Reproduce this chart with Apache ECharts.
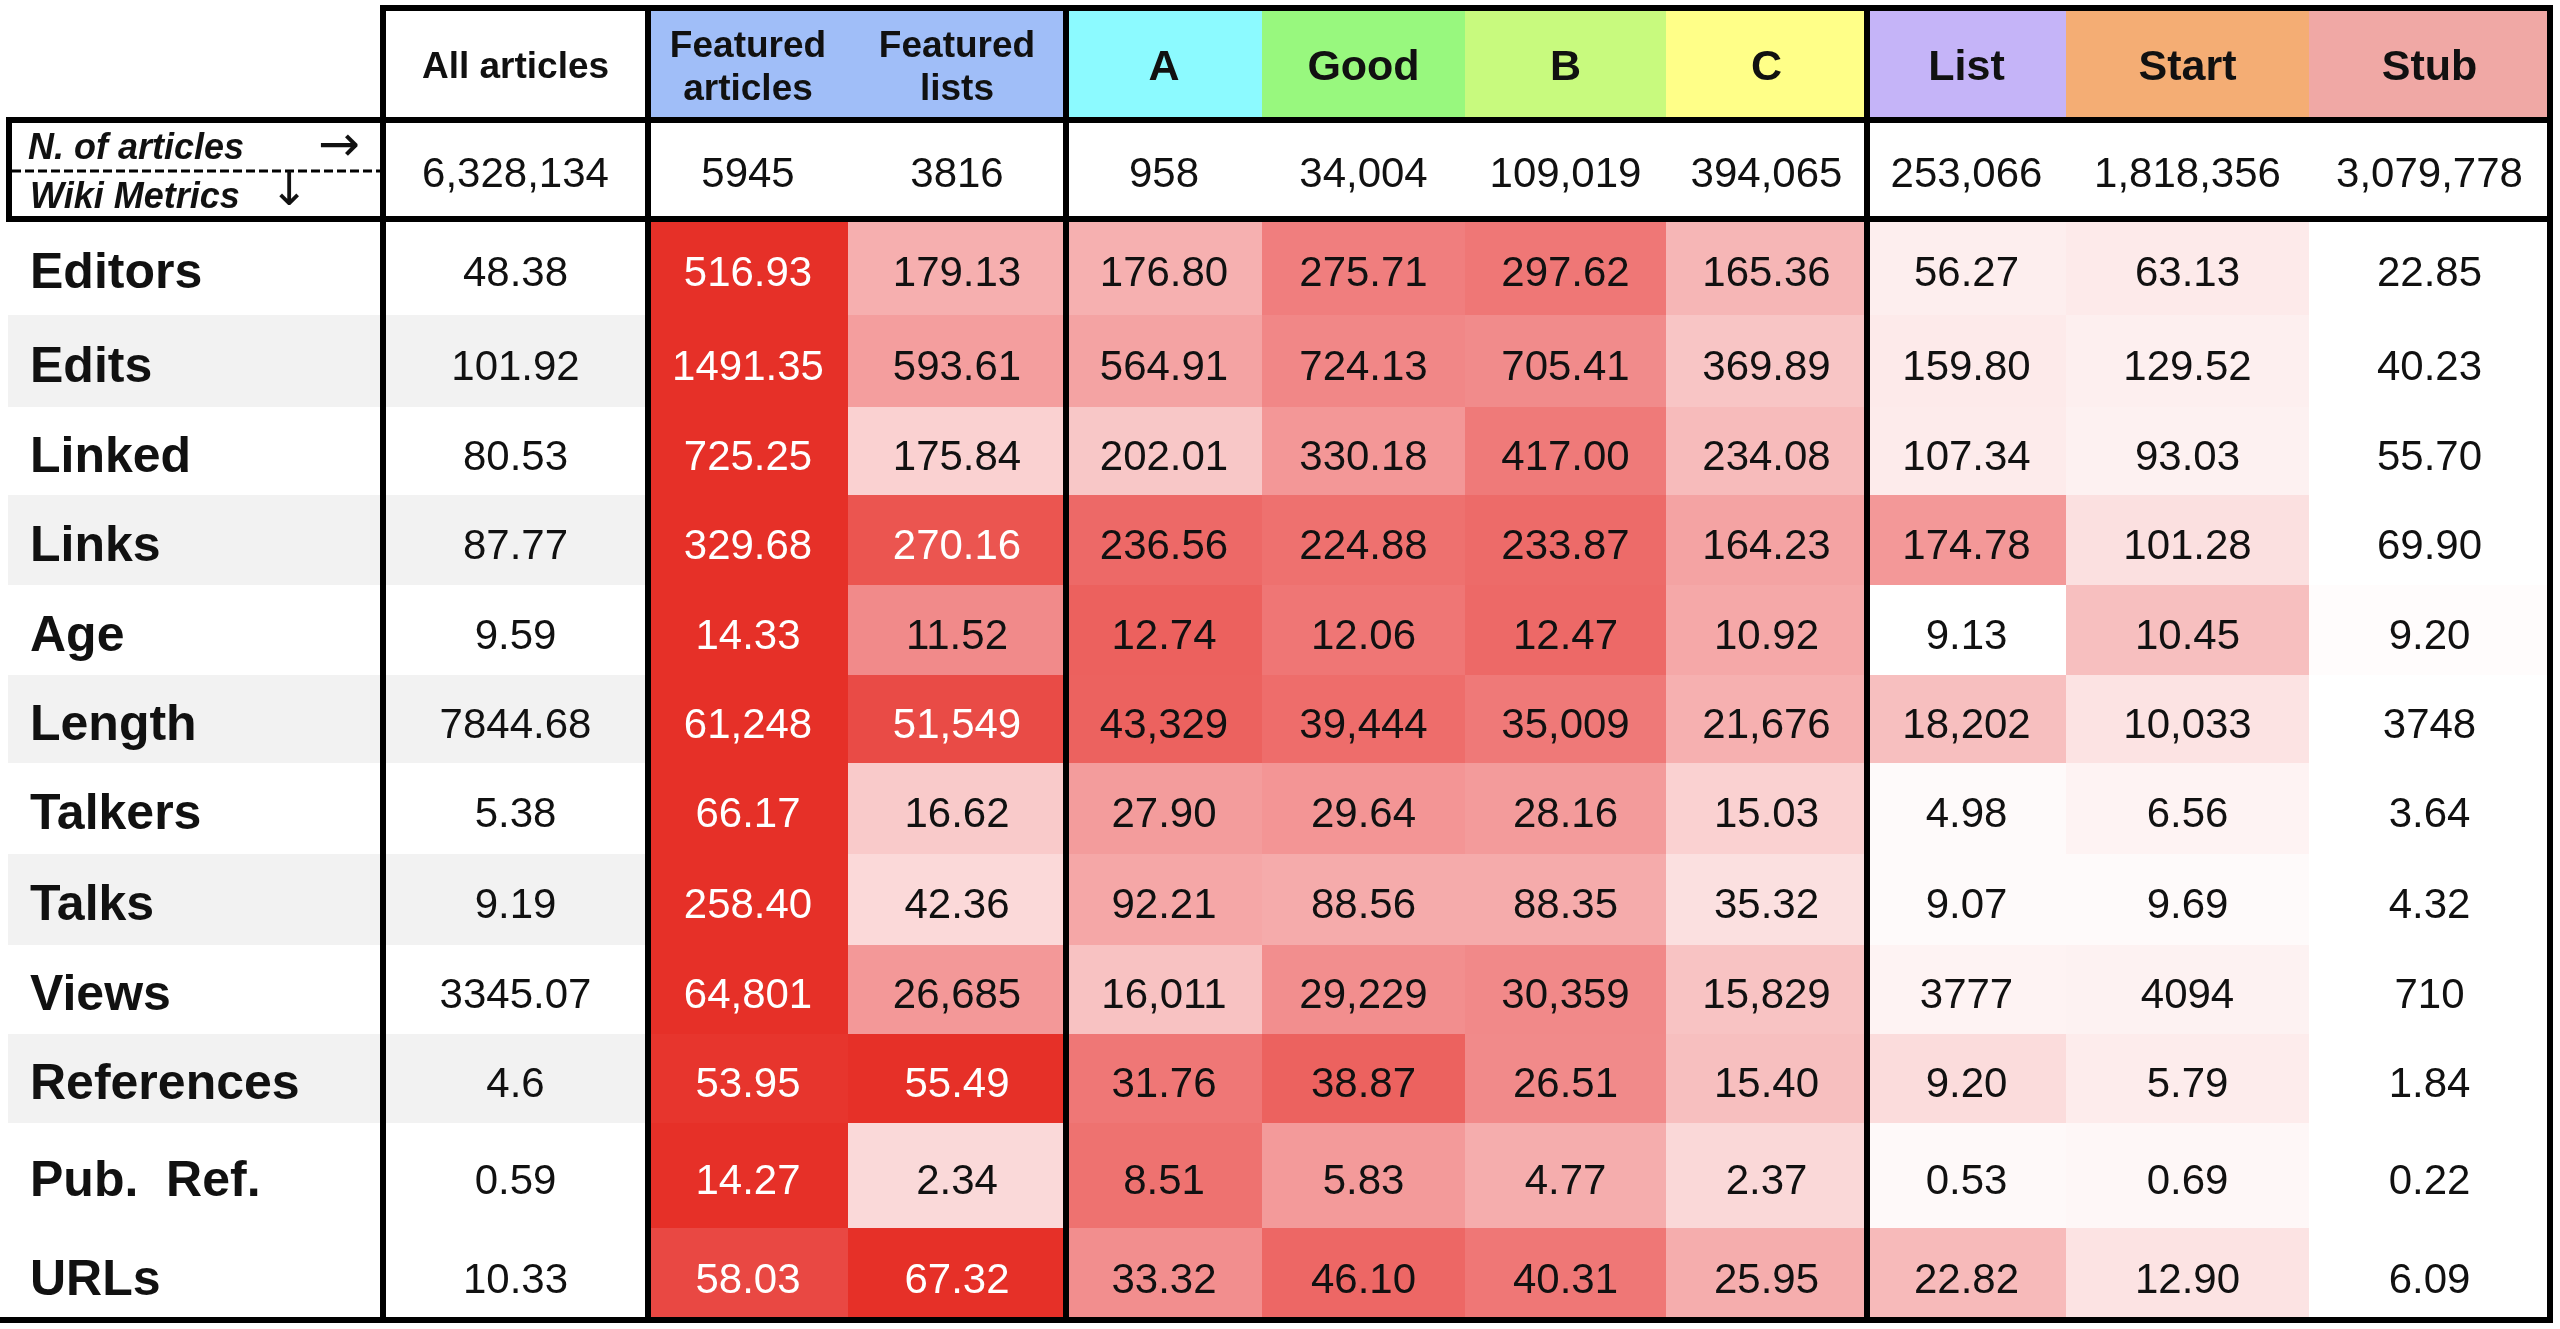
<!DOCTYPE html>
<html>
<head>
<meta charset="utf-8">
<title>Wiki metrics by quality class</title>
<script src="https://cdn.jsdelivr.net/npm/echarts@6/dist/echarts.min.js"></script>
<style>
  html, body { margin: 0; padding: 0; background: #fff; }
  #chart { width: 2560px; height: 1329px; }
</style>
</head>
<body>
<div id="chart"></div>
<script>
  // quality classes (column headers)
  const categories = ['All articles', 'Featured\narticles', 'Featured\nlists', 'A', 'Good', 'B', 'C', 'List', 'Start', 'Stub']
  const articleCounts = [6328134, 5945, 3816, 958, 34004, 109019, 394065, 253066, 1818356, 3079778]

  // metrics (row labels)
  const metrics = ['Editors', 'Edits', 'Linked', 'Links', 'Age', 'Length', 'Talkers', 'Talks', 'Views', 'References', 'Pub.  Ref.', 'URLs']
  const allArticles = [48.38, 101.92, 80.53, 87.77, 9.59, 7844.68, 5.38, 9.19, 3345.07, 4.6, 0.59, 10.33]

  // FA, FL, A, Good, B, C, List, Start, Stub
  const editors = [516.93, 179.13, 176.80, 275.71, 297.62, 165.36, 56.27, 63.13, 22.85]
  const edits = [1491.35, 593.61, 564.91, 724.13, 705.41, 369.89, 159.80, 129.52, 40.23]
  const linked = [725.25, 175.84, 202.01, 330.18, 417.00, 234.08, 107.34, 93.03, 55.70]
  const links = [329.68, 270.16, 236.56, 224.88, 233.87, 164.23, 174.78, 101.28, 69.90]
  const age = [14.33, 11.52, 12.74, 12.06, 12.47, 10.92, 9.13, 10.45, 9.20]
  const length = [61248, 51549, 43329, 39444, 35009, 21676, 18202, 10033, 3748]
  const talkers = [66.17, 16.62, 27.90, 29.64, 28.16, 15.03, 4.98, 6.56, 3.64]
  const talks = [258.40, 42.36, 92.21, 88.56, 88.35, 35.32, 9.07, 9.69, 4.32]
  const views = [64801, 26685, 16011, 29229, 30359, 15829, 3777, 4094, 710]
  const references = [53.95, 55.49, 31.76, 38.87, 26.51, 15.40, 9.20, 5.79, 1.84]
  const pubRef = [14.27, 2.34, 8.51, 5.83, 4.77, 2.37, 0.53, 0.69, 0.22]
  const urls = [58.03, 67.32, 33.32, 46.10, 40.31, 25.95, 22.82, 12.90, 6.09]

  const rows = [editors, edits, linked, links, age, length, talkers, talks, views, references, pubRef, urls]
  const rowDecimals = [2, 2, 2, 2, 2, 0, 2, 2, 0, 2, 2, 2]

  // table layout (pixels) and styles
  const colEdges = [8, 383, 648, 848, 1066, 1262, 1465, 1666, 1867, 2066, 2309, 2550]
  const rowEdges = [219, 315, 407, 495, 585, 675, 763, 854, 945, 1034, 1123, 1228, 1320]
  const headTop = 8, headMid = 120, headBottom = 219
  const headerColors = ['#FFFFFF', '#A0BEF8', '#A0BEF8', '#8CFAFF', '#98F87E', '#C8FA7E', '#FFFF88', '#C5B4F8', '#F4AD74', '#F0A8A5']
  const FONT = '"Liberation Sans", Arial, Helvetica, sans-serif'

  function fmt(v, decimals) {
    if (decimals === 0) return v >= 10000 ? v.toLocaleString('en-US') : String(v)
    return v.toFixed(decimals)
  }

  function cellRect(api, c0, r0, c1, r1) {
    const tl = api.coord([c0, r0])
    const br = api.coord([c1, r1])
    return {x: tl[0], y: tl[1], width: br[0] - tl[0], height: br[1] - tl[1]}
  }

  // heat cells, colour normalised per row
  const heatData = []
  rows.forEach((vals, r) => {
    const lo = Math.min(...vals), hi = Math.max(...vals)
    vals.forEach((v, j) => heatData.push([j, r, v, (v - lo) / (hi - lo)]))
  })

  const chart = echarts.init(document.getElementById('chart'))

  const border = {stroke: '#000', lineWidth: 6}
  const right = colEdges[colEdges.length - 1]
  const bottom = rowEdges[rowEdges.length - 1]
  const lineDefs = [
    [colEdges[1] - 3, headTop, right + 3, headTop],
    [6, headMid, right + 3, headMid],
    [6, headBottom, right + 3, headBottom],
    [0, bottom, right + 3, bottom],
    [9, headMid - 3, 9, headBottom + 3]
  ];
  [1, 2, 4, 8, 11].forEach(c => lineDefs.push([colEdges[c], headTop - 3, colEdges[c], bottom + 3]))

  const graphics = lineDefs.map(l => ({
    type: 'line', z: 100, shape: {x1: l[0], y1: l[1], x2: l[2], y2: l[3]}, style: border
  }))
  graphics.push(
    {type: 'line', z: 100, shape: {x1: 12, y1: 171, x2: 387, y2: 171}, style: {stroke: '#000', lineWidth: 3, lineDash: [9, 4]}},
    {type: 'text', z: 100, x: 28, y: 149, style: {text: 'N. of articles', fontSize: 36, fontWeight: 'bold', fontStyle: 'italic', fontFamily: FONT, fill: '#111', verticalAlign: 'middle'}},
    {type: 'text', z: 100, x: 318, y: 148, style: {text: '→', fontSize: 50, fontFamily: 'DejaVu Sans', fill: '#111', verticalAlign: 'middle'}},
    {type: 'text', z: 100, x: 30, y: 198, style: {text: 'Wiki Metrics', fontSize: 36, fontWeight: 'bold', fontStyle: 'italic', fontFamily: FONT, fill: '#111', verticalAlign: 'middle'}},
    {type: 'text', z: 100, x: 270, y: 193, style: {text: '↓', fontSize: 46, fontStyle: 'italic', fontFamily: 'DejaVu Sans', fill: '#111', verticalAlign: 'middle'}}
  )

  const option = {
    animation: false,
    backgroundColor: '#fff',
    grid: {left: 0, right: 0, top: 0, bottom: 0},
    xAxis: {type: 'value', min: 0, max: 2560, show: false},
    yAxis: {type: 'value', min: 0, max: 1329, inverse: true, show: false},
    visualMap: {
      type: 'continuous', show: false, seriesIndex: 3, dimension: 3, min: 0, max: 1,
      inRange: {color: ['#FFFFFF', '#F08080', '#E63028']}
    },
    graphic: graphics,
    series: [
      {
        // header row
        type: 'custom',
        data: categories.map((c, i) => [i, 0]),
        renderItem(params, api) {
          const i = api.value(0)
          const r = cellRect(api, colEdges[i + 1], headTop, colEdges[i + 2], headMid)
          return {
            type: 'group',
            children: [
              {type: 'rect', shape: r, style: {fill: headerColors[i]}},
              {type: 'text', x: r.x + r.width / 2, y: r.y + r.height / 2 + 4, style: {
                text: categories[i], align: 'center', verticalAlign: 'middle',
                fontSize: i < 3 ? 37 : 43, lineHeight: 43, fontWeight: 'bold', fontFamily: FONT, fill: '#111'
              }}
            ]
          }
        }
      },
      {
        // number of articles row
        type: 'custom',
        data: articleCounts.map((v, i) => [i, v]),
        renderItem(params, api) {
          const i = api.value(0)
          const r = cellRect(api, colEdges[i + 1], headMid, colEdges[i + 2], headBottom)
          return {type: 'text', x: r.x + r.width / 2, y: r.y + r.height / 2 + 6, style: {
            text: fmt(api.value(1), 0), align: 'center', verticalAlign: 'middle',
            fontSize: 42, fontFamily: FONT, fill: '#111'
          }}
        }
      },
      {
        // metric labels + all articles column
        type: 'custom',
        data: allArticles.map((v, i) => [i, v]),
        renderItem(params, api) {
          const i = api.value(0)
          const band = cellRect(api, colEdges[0], rowEdges[i], colEdges[2], rowEdges[i + 1])
          const all = cellRect(api, colEdges[1], rowEdges[i], colEdges[2], rowEdges[i + 1])
          const cy = band.y + band.height / 2 + 7
          return {
            type: 'group',
            children: [
              {type: 'rect', shape: band, style: {fill: (i % 2 && i < 10) ? '#F2F2F2' : '#FFFFFF'}},
              {type: 'text', x: band.x + 22, y: cy, style: {
                text: metrics[i], verticalAlign: 'middle', fontSize: 50, fontWeight: 'bold', fontFamily: FONT, fill: '#111'
              }},
              {type: 'text', x: all.x + all.width / 2, y: cy, style: {
                text: String(api.value(1)), align: 'center', verticalAlign: 'middle', fontSize: 42, fontFamily: FONT, fill: '#111'
              }}
            ]
          }
        }
      },
      {
        // heat cells
        type: 'custom',
        data: heatData,
        renderItem(params, api) {
          const j = api.value(0), row = api.value(1)
          const r = cellRect(api, colEdges[j + 2], rowEdges[row], colEdges[j + 3], rowEdges[row + 1])
          return {
            type: 'group',
            children: [
              {type: 'rect', shape: r, style: {fill: api.visual('color')}},
              {type: 'text', x: r.x + r.width / 2, y: r.y + r.height / 2 + 7, style: {
                text: fmt(api.value(2), rowDecimals[row]), align: 'center', verticalAlign: 'middle',
                fontSize: 42, fontFamily: FONT, fill: api.value(3) > 0.75 ? '#FFFFFF' : '#111'
              }}
            ]
          }
        }
      }
    ]
  }

  chart.setOption(option)
</script>
</body>
</html>
